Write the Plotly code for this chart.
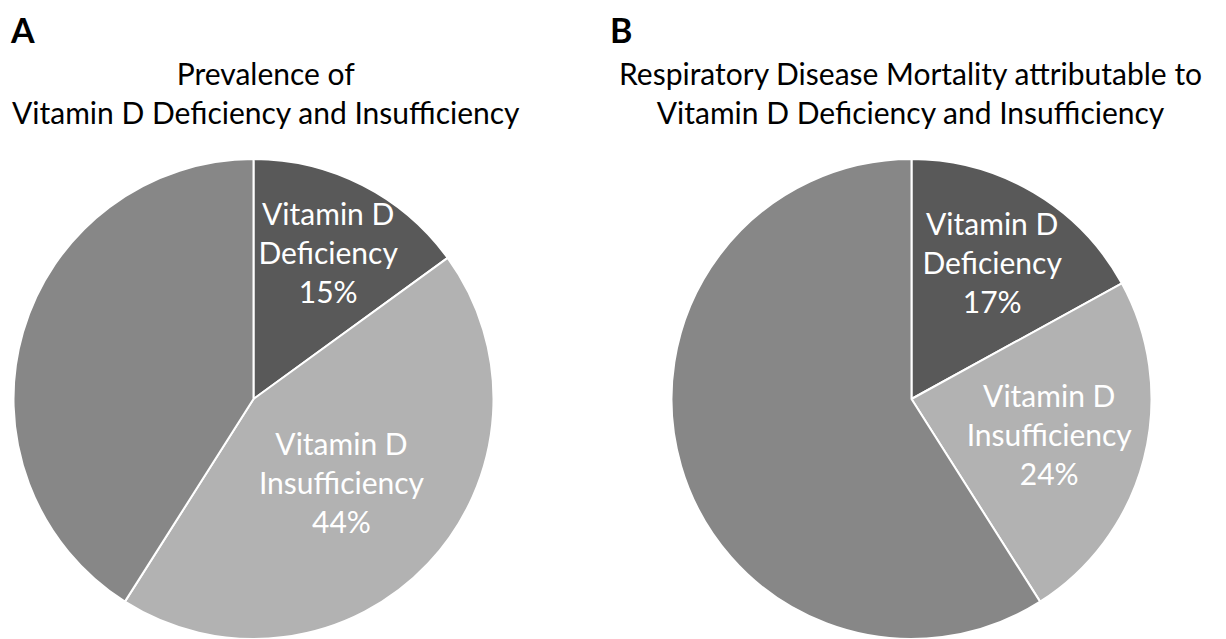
import plotly.graph_objects as go

categories = ["Vitamin D Deficiency", "Vitamin D Insufficiency", "Sufficient"]
prevalence = [15, 44, 41]
mortality = [17, 24, 59]
label_lines = ["Vitamin D<br>Deficiency", "Vitamin D<br>Insufficiency", ""]
colors = ["#595959", "#b2b2b2", "#878787"]

# page has an 8px body margin, so the figure is drawn 8px in from the page corner
W, H = 1218, 631
OFF = 8
FONT = "Lato, Open Sans, sans-serif"
LABEL_SIZE = 30

def texts(vals):
    return [f"{l}<br>{v}%" if l else "" for l, v in zip(label_lines, vals)]

def dom_x(l, r):
    return [(l - OFF) / W, (r - OFF) / W]

def dom_y(top, bottom):
    return [max(0, (H - (bottom - OFF)) / H), (H - (top - OFF)) / H]

fig = go.Figure()
for vals, dx in [(prevalence, dom_x(13, 494)), (mortality, dom_x(671, 1152))]:
    fig.add_trace(go.Pie(
        labels=categories, values=vals, text=texts(vals),
        textinfo="text", textposition="inside", insidetextorientation="horizontal",
        sort=False, direction="clockwise", rotation=0,
        marker=dict(colors=colors, line=dict(color="white", width=2)),
        textfont=dict(color="white", size=LABEL_SIZE, family=FONT),
        domain=dict(x=dx, y=dom_y(159, 639)),
        hoverinfo="label+percent", showlegend=False,
    ))

annots = [
    dict(text="<b>A</b>", x=8, y=7, size=34, xanchor="left"),
    dict(text="<b>B</b>", x=608, y=7, size=34, xanchor="left"),
    dict(text="Prevalence of<br>Vitamin D Deficiency and Insufficiency", x=266, y=53, size=30, xanchor="center"),
    dict(text="Respiratory Disease Mortality attributable to<br>Vitamin D Deficiency and Insufficiency", x=910, y=53, size=30, xanchor="center"),
]
for a in annots:
    fig.add_annotation(text=a["text"], x=(a["x"] - OFF) / W, y=1 - (a["y"] - OFF) / H,
                       xref="paper", yref="paper",
                       xanchor=a["xanchor"], yanchor="top", showarrow=False,
                       font=dict(size=a["size"], color="black", family=FONT), align="center")

fig.update_layout(width=W, height=H, margin=dict(l=0, r=0, t=0, b=0),
                  paper_bgcolor="white", plot_bgcolor="white",
                  uniformtext=dict(minsize=LABEL_SIZE, mode="show"))
fig.write_html("out.html")
